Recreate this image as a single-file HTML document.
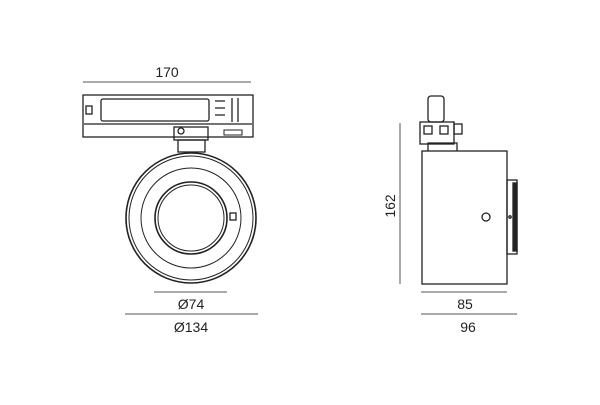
<!DOCTYPE html><html><head><style>body{margin:0;background:#fff}</style></head><body>
<svg width="600" height="400" viewBox="0 0 600 400" xmlns="http://www.w3.org/2000/svg" font-family="Liberation Sans, sans-serif" fill="none" stroke="#222">
<rect width="600" height="400" fill="#fff" stroke="none"/>
<g fill="#222" stroke="none" font-size="14" text-anchor="middle">
<text x="167" y="77">170</text>
<text x="191" y="309">Ø74</text>
<text x="191" y="332">Ø134</text>
<text x="465" y="309">85</text>
<text x="468" y="332">96</text>
<text transform="translate(395,206) rotate(-90)">162</text>
</g>
<g stroke="#555" stroke-width="1">
<line x1="83" y1="82" x2="251" y2="82"/>
<line x1="154" y1="292" x2="227" y2="292"/>
<line x1="125" y1="314" x2="258" y2="314"/>
<line x1="421" y1="292" x2="507" y2="292"/>
<line x1="421" y1="314" x2="517" y2="314"/>
<line x1="400" y1="123" x2="400" y2="284"/>
</g>
<!-- front view -->
<g stroke-width="1.3">
<rect x="83" y="95" width="170" height="42"/>
<rect x="101" y="99" width="108" height="22" rx="2"/>
<line x1="84" y1="124" x2="252" y2="124"/>
<rect x="86" y="106" width="6" height="8"/>
<path d="M215 101h10M215 108h10M215 115h10M232 98v24M238 98v24"/>
<rect x="224" y="130" width="18" height="5" stroke-width="1"/>
<rect x="174" y="127" width="34" height="13"/>
<circle cx="181" cy="131" r="3"/>
<rect x="178" y="140" width="27" height="12"/>
<circle cx="191" cy="218" r="65" stroke-width="1.6"/>
<circle cx="191" cy="218" r="62" stroke-width="1"/>
<circle cx="191" cy="218" r="50" stroke-width="1"/>
<circle cx="191" cy="218" r="36" stroke-width="1.6"/>
<circle cx="191" cy="218" r="33" stroke-width="1"/>
<rect x="230" y="213" width="6" height="7"/>
</g>
<!-- side view -->
<g stroke-width="1.3">
<rect x="422" y="151" width="85" height="133"/>
<rect x="507" y="180" width="10" height="74"/>
<rect x="513" y="183" width="4" height="68" fill="#222"/>
<circle cx="486" cy="217" r="4"/>
<circle cx="510" cy="217" r="1.2"/>
<path d="M428 151v-8h29v8"/>
<rect x="420" y="122" width="34" height="22"/>
<rect x="454" y="124" width="8" height="10"/>
<rect x="428" y="96" width="16" height="26" rx="3"/>
<rect x="424" y="126" width="8" height="8"/>
<rect x="440" y="126" width="8" height="8"/>
</g>
</svg>
</body></html>
